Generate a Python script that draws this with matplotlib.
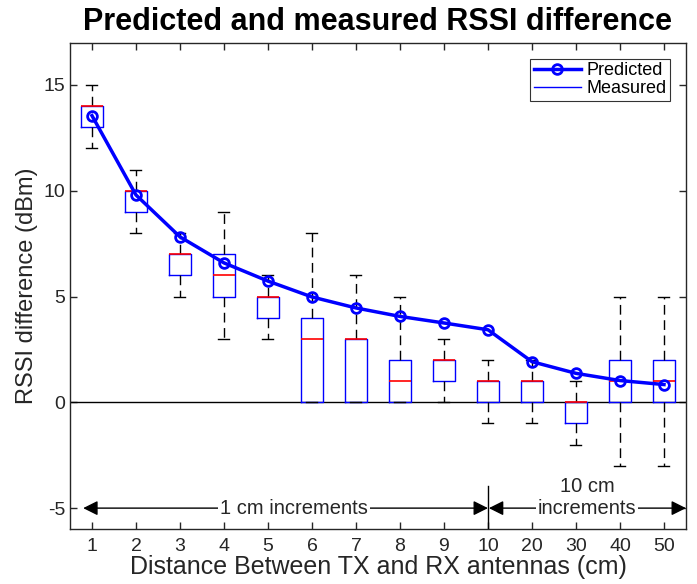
import matplotlib
matplotlib.use("Agg")
import matplotlib.pyplot as plt

plt.rcParams['font.family'] = ['Liberation Sans', 'DejaVu Sans']
plt.rcParams['axes.unicode_minus'] = False

# ---- data ----
tick_labels = ['1', '2', '3', '4', '5', '6', '7', '8', '9', '10', '20', '30', '40', '50']
q1 =        [13, 9, 6, 5, 4, 0, 0, 0, 1, 0, 0, -1, 0, 0]
median =    [14, 10, 7, 6, 5, 3, 3, 1, 2, 1, 1, 0, 1, 1]
q3 =        [14, 10, 7, 7, 5, 4, 3, 2, 2, 1, 1, 0, 2, 2]
whisk_lo =  [12, 8, 5, 3, 3, 0, 0, 0, 0, -1, -1, -2, -3, -3]
whisk_hi =  [15, 11, 8, 9, 6, 8, 6, 5, 3, 2, 2, 1, 5, 5]
predicted = [13.55, 9.8, 7.82, 6.59, 5.73, 4.98, 4.46, 4.06, 3.75, 3.43, 1.92, 1.37, 1.03, 0.84]

positions = list(range(1, len(tick_labels) + 1))

fig = plt.figure(figsize=(6.97, 5.84), dpi=100)
ax = fig.add_axes([0.1004, 0.0937, 0.8838, 0.8333])

axcol = '#262626'

stats = [dict(med=m, q1=a, q3=b, whislo=lo, whishi=hi, fliers=[])
         for m, a, b, lo, hi in zip(median, q1, q3, whisk_lo, whisk_hi)]
ax.bxp(stats, positions=positions, widths=0.5, showfliers=False,
       boxprops=dict(color='blue', lw=1.0),
       medianprops=dict(color='red', lw=1.2),
       whiskerprops=dict(color='black', lw=1.0, linestyle=(0, (7, 4))),
       capprops=dict(color='black', lw=1.0),
       manage_ticks=False, zorder=3)

ax.axhline(0, color='black', lw=1.0, zorder=2)

ax.plot(positions, predicted, '-o', color='blue', lw=2.5, ms=7,
        mfc='none', mew=2, zorder=5, label='Predicted')
ax.plot([], [], '-', color='blue', lw=1.0, label='Measured')

ax.set_xlim(0.5, 14.5)
ax.set_ylim(-6, 17)
ax.set_xticks(positions)
ax.set_xticklabels(tick_labels)
ax.set_yticks([-5, 0, 5, 10, 15])
ax.tick_params(direction='in', top=True, right=True, length=5,
               labelsize=14, colors=axcol, width=1)
ax.tick_params(axis='x', pad=6)
for s in ax.spines.values():
    s.set_color(axcol)
    s.set_linewidth(1.0)

# annotations
ax.plot([10, 10], [-6, -3.95], color='black', lw=1.0, zorder=4)
ax.annotate('', xy=(0.8, -5), xytext=(10, -5),
            arrowprops=dict(arrowstyle='<|-|>', color='black', lw=1.0,
                            mutation_scale=22, shrinkA=0, shrinkB=0))
ax.annotate('', xy=(10.02, -5), xytext=(14.5, -5),
            arrowprops=dict(arrowstyle='<|-|>', color='black', lw=1.0,
                            mutation_scale=22, shrinkA=0, shrinkB=0))
ax.text(5.6, -5, '1 cm increments', ha='center', va='center', fontsize=14.5,
        color=axcol, bbox=dict(facecolor='white', edgecolor='none', pad=1.5), zorder=6)
ax.text(12.25, -5, 'increments', ha='center', va='center', fontsize=14.5,
        color=axcol, bbox=dict(facecolor='white', edgecolor='none', pad=1.5), zorder=6)
ax.text(12.25, -3.98, '10 cm', ha='center', va='center', fontsize=14.5,
        color=axcol, zorder=6)

ax.set_title('Predicted and measured RSSI difference', fontsize=22,
             fontweight='bold', pad=9)
ax.set_xlabel('Distance Between TX and RX antennas (cm)', fontsize=18,
              color=axcol, labelpad=0)
ax.set_ylabel('RSSI difference (dBm)', fontsize=17, color=axcol, labelpad=4)

leg = ax.legend(loc='upper right', fontsize=13, frameon=True, fancybox=False,
                borderpad=0.2, handlelength=2.6, labelspacing=0.05,
                handletextpad=0.3, borderaxespad=0.9)
leg.get_frame().set_edgecolor('black')
leg.get_frame().set_linewidth(0.8)

fig.savefig('out.png', dpi=100)
